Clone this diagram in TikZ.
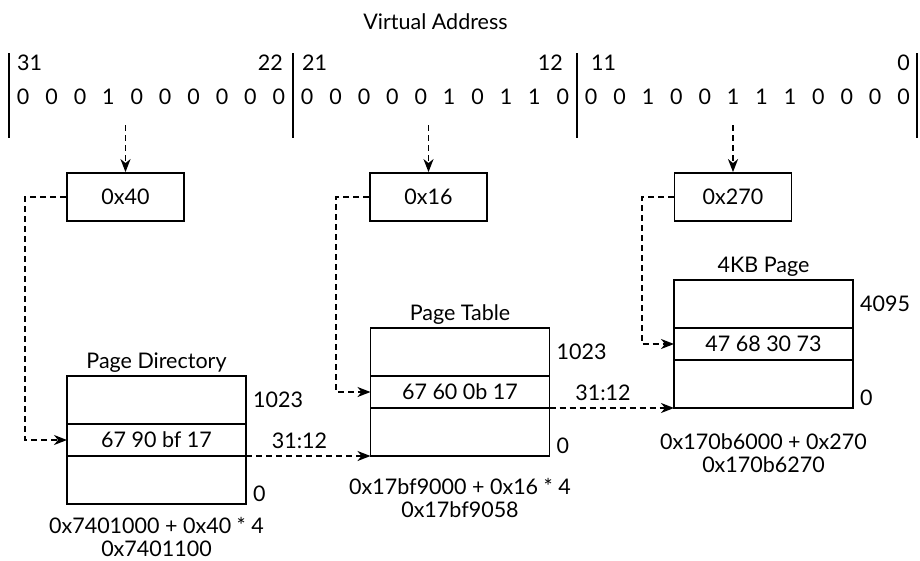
\documentclass[tikz,border=0pt]{standalone}
\usepackage{fontspec}
\setmainfont{Lato}
\usetikzlibrary{arrows.meta,positioning}
\begin{document}
\begin{tikzpicture}[x=1pt,y=-1pt,inner sep=2pt,font=\fontsize{21.5}{23.5}\selectfont]
	\tikzstyle{cell}=[draw,line width=1.8pt,minimum width=179pt,minimum height=48pt,inner sep=0,outer sep=0]
	\tikzstyle{row}=[cell,minimum height=32pt]
	\tikzstyle{idx}=[draw,line width=1.8pt,minimum width=117pt,minimum height=48pt,inner sep=0]
	\tikzstyle{link}=[line width=1.8pt,dash pattern=on 6pt off 4pt,-{Stealth[length=13pt,width=10pt,inset=4pt]}]
	\tikzstyle{bar}=[line width=1.8pt]
	
	\useasboundingbox (0,0) rectangle (920,560);
	
	% virtual address
	\node (title) at (435.5,22) {Virtual Address};
	\foreach \x in {9,293,577,917}
		\draw[bar] (\x,53) -- (\x,138);
	\foreach \b [count=\i from 0] in {0,0,0,1,0,0,0,0,0,0, 0,0,0,0,0,1,0,1,1,0, 0,0,1,0,0,1,1,1,0,0,0,0}
		\node (d\i) at ({23.2+28.4*\i},97) {\b};
	\node [anchor=west] (h31) at (15,63) {31};
	\node [anchor=east] (h22) at (285,63) {22};
	\node [anchor=west] (h21) at (300,63) {21};
	\node [anchor=east] (h12) at (565,63) {12};
	\node [anchor=west] (h11) at (589,63) {11};
	\node [anchor=east] (h0)  at (912,63) {0};
	
	% indices
	\node [idx] (dir) at (125.5,197) {0x40};
	\node [idx] (tbl) at (428.5,197) {0x16};
	\node [idx] (off) at (733,197)   {0x270};
	\coordinate (s1) at (125.5,125);
	\coordinate (s2) at (428.5,125);
	\coordinate (s3) at (733,125);
	\draw[link] (s1) -- (dir);
	\draw[link] (s2) -- (tbl);
	\draw[link] (s3) -- (off);
	
	% page directory
	\node [cell] (pd1) at (156.5,400) {};
	\node [row, below=0pt of pd1] (pd2) {67 90 bf 17};
	\node [cell, below=0pt of pd2] (pd3) {};
	\node [above=1pt of pd1] (pdname) {Page Directory};
	\node [right=5pt of pd1] (pdmax) {1023};
	\node [anchor=south west] (pdmin) at ([xshift=5pt]pd3.south east) {0};
	\node [below=13pt of pd3, align=center, inner sep=0pt] (pdaddr) {0x7401000 + 0x40 * 4\\0x7401100};
	
	% page table
	\node [cell] (pt1) at (460,352) {};
	\node [row, below=0pt of pt1] (pt2) {67 60 0b 17};
	\node [cell, below=0pt of pt2] (pt3) {};
	\node [above=1pt of pt1] (ptname) {Page Table};
	\node [right=5pt of pt1] (ptmax) {1023};
	\node [anchor=south west] (ptmin) at ([xshift=5pt]pt3.south east) {0};
	\node [below=20pt of pt3, align=center] (ptaddr) {0x17bf9000 + 0x16 * 4\\0x17bf9058};
	
	% 4KB page
	\node [cell] (pg1) at (763.5,304) {};
	\node [row, below=0pt of pg1] (pg2) {47 68 30 73};
	\node [cell, below=0pt of pg2] (pg3) {};
	\node [above=1pt of pg1] (pgname) {4KB Page};
	\node [right=5pt of pg1] (pgmax) {4095};
	\node [anchor=south west] (pgmin) at ([xshift=5pt]pg3.south east) {0};
	\node [below=23pt of pg3, align=center] (pgaddr) {0x170b6000 + 0x270\\0x170b6270};
	
	\draw[link] (dir.west) -- ++(-41,0) |- (pd2.west);
	\draw[link] (tbl.west) -- ++(-33,0) |- (pt2.west);
	\draw[link] (off.west) -- ++(-32,0) |- (pg2.west);
	\draw[link] (pd2.south east) -- node[above=4pt, pos=0.43]{31:12} (pt3.south west);
	\draw[link] (pt2.south east) -- node[above=4pt, pos=0.43]{31:12} (pg3.south west);
\end{tikzpicture}
\end{document}
